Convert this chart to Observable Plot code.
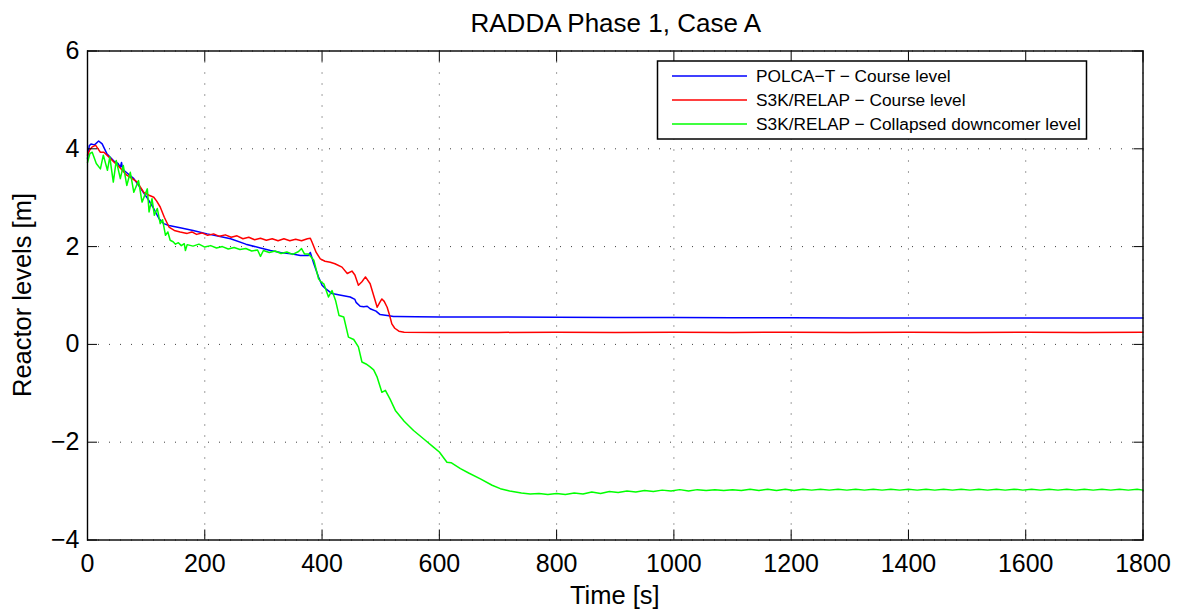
<!DOCTYPE html>
<html>
<head>
<meta charset="utf-8">
<script src="https://cdn.jsdelivr.net/npm/d3@7"></script>
<script src="https://cdn.jsdelivr.net/npm/@observablehq/plot@0.6"></script>
<style>
  html, body { margin: 0; padding: 0; background: #fff; }
  #chart { width: 1181px; height: 612px; }
</style>
</head>
<body>
<div id="chart"></div>
<script>
// ---------- data ----------
const titleText = "RADDA Phase 1, Case A";
const xLabel = "Time [s]";
const yLabel = "Reactor levels [m]";
const xTicks = [0, 200, 400, 600, 800, 1000, 1200, 1400, 1600, 1800];
const yTicks = [-4, -2, 0, 2, 4, 6];
const seriesNames = ["POLCA\u2212T \u2212 Course level", "S3K/RELAP \u2212 Course level", "S3K/RELAP \u2212 Collapsed downcomer level"];
const seriesColors = ["#0000ff", "#ff0000", "#00ff00"];

// POLCA-T course level
const polcaT = [0, 3, 6, 12, 19, 25, 33, 45, 52, 56, 58, 60, 66, 79, 90, 101, 112, 122, 130, 139, 160, 180, 204, 224, 244, 270, 295, 312, 329, 350, 363, 377, 380, 386, 394, 400, 406, 417, 430, 448, 456, 458, 465, 471, 477, 482, 492, 499, 511, 522, 528, 560, 602, 704, 800, 900, 1000, 1100, 1200, 1300, 1400, 1500, 1600, 1700, 1800];
const polcaV = [3.80, 4.06, 4.10, 4.08, 4.16, 4.10, 3.90, 3.75, 3.70, 3.62, 3.72, 3.58, 3.52, 3.39, 3.20, 3.01, 2.80, 2.57, 2.47, 2.43, 2.38, 2.33, 2.26, 2.21, 2.16, 2.05, 1.97, 1.92, 1.88, 1.85, 1.82, 1.82, 1.88, 1.65, 1.38, 1.21, 1.14, 1.04, 1.01, 0.97, 0.92, 0.86, 0.78, 0.77, 0.78, 0.73, 0.68, 0.61, 0.59, 0.57, 0.57, 0.565, 0.56, 0.56, 0.555, 0.55, 0.55, 0.545, 0.545, 0.54, 0.54, 0.54, 0.54, 0.54, 0.54];

// S3K/RELAP course level
const relapT = [0, 4, 8, 14, 18, 22, 28, 35, 45, 55, 67, 75, 85, 90, 96, 105, 113, 118, 124, 131, 139, 148, 158, 170, 178, 186, 195, 205, 215, 225, 235, 245, 255, 265, 275, 285, 295, 305, 315, 325, 335, 345, 355, 365, 375, 380, 383, 390, 397, 405, 414, 422, 434, 443, 451, 456, 462, 468, 474, 482, 488, 494, 498, 502, 506, 511, 515, 519, 524, 531, 540, 600, 700, 800, 900, 1000, 1100, 1200, 1300, 1400, 1500, 1600, 1700, 1800];
const relapV = [3.87, 3.98, 4.04, 4.07, 4.00, 3.93, 3.93, 3.85, 3.73, 3.62, 3.46, 3.40, 3.32, 3.22, 3.11, 3.05, 3.01, 2.93, 2.81, 2.60, 2.40, 2.33, 2.30, 2.27, 2.30, 2.25, 2.28, 2.23, 2.26, 2.21, 2.24, 2.19, 2.22, 2.16, 2.19, 2.14, 2.17, 2.13, 2.16, 2.12, 2.16, 2.12, 2.15, 2.12, 2.16, 2.17, 2.09, 1.88, 1.75, 1.70, 1.68, 1.65, 1.58, 1.45, 1.50, 1.42, 1.21, 1.28, 1.38, 1.24, 1.00, 0.76, 0.85, 0.93, 0.88, 0.76, 0.60, 0.42, 0.33, 0.27, 0.25, 0.245, 0.245, 0.25, 0.245, 0.25, 0.245, 0.25, 0.245, 0.25, 0.245, 0.25, 0.245, 0.25];

// S3K/RELAP collapsed downcomer level
const dcT = [0, 4, 8, 15, 22, 27, 34, 38, 44, 49, 56, 61, 67, 73, 79, 87, 93, 102, 105, 110, 114, 119, 124, 128, 133, 137, 141, 146, 150, 155, 160, 165, 167, 170, 180, 190, 200, 210, 220, 230, 240, 250, 260, 270, 280, 290, 295, 300, 310, 320, 330, 340, 350, 360, 365, 370, 377, 386, 394, 398, 403, 411, 417, 423, 429, 437, 445, 454, 462, 468, 475, 482, 488, 494, 502, 508, 516, 525, 540, 556, 575, 590, 600, 613, 620, 636, 650, 670, 690, 704, 720, 740, 755, 770, 785, 800, 815, 830, 845, 860, 875, 890, 905, 920, 935, 950, 965, 980, 995, 1010, 1025, 1040, 1055, 1070, 1085, 1100, 1115, 1130, 1145, 1160, 1175, 1190, 1205, 1220, 1235, 1250, 1265, 1280, 1295, 1310, 1325, 1340, 1355, 1370, 1385, 1400, 1415, 1430, 1445, 1460, 1475, 1490, 1505, 1520, 1535, 1550, 1565, 1580, 1595, 1610, 1625, 1640, 1655, 1670, 1685, 1700, 1715, 1730, 1745, 1760, 1775, 1790, 1800];
const dcV = [3.72, 3.90, 3.93, 3.70, 3.59, 3.87, 3.56, 3.83, 3.32, 3.76, 3.39, 3.66, 3.25, 3.52, 3.11, 3.35, 2.91, 3.18, 2.71, 2.98, 2.64, 2.78, 2.47, 2.55, 2.23, 2.30, 2.13, 2.10, 2.05, 2.08, 2.02, 2.06, 1.92, 2.04, 2.01, 2.05, 1.99, 2.02, 1.97, 2.00, 1.95, 1.98, 1.94, 1.96, 1.91, 1.93, 1.80, 1.92, 1.88, 1.91, 1.86, 1.89, 1.84, 1.90, 1.96, 1.85, 1.85, 1.72, 1.34, 1.28, 1.24, 0.97, 1.10, 0.90, 0.59, 0.56, 0.15, 0.10, -0.05, -0.36, -0.40, -0.46, -0.52, -0.67, -0.98, -0.94, -1.12, -1.35, -1.57, -1.76, -1.95, -2.10, -2.20, -2.41, -2.42, -2.54, -2.63, -2.75, -2.88, -2.95, -3.00, -3.04, -3.06, -3.05, -3.07, -3.05, -3.07, -3.04, -3.06, -3.02, -3.05, -3.01, -3.03, -3.00, -3.02, -2.99, -3.01, -2.98, -3.00, -2.97, -3.00, -2.97, -2.99, -2.97, -2.99, -2.97, -2.99, -2.96, -2.99, -2.96, -2.99, -2.96, -2.99, -2.96, -2.98, -2.96, -2.98, -2.96, -2.98, -2.96, -2.98, -2.96, -2.98, -2.96, -2.98, -2.96, -2.98, -2.96, -2.98, -2.96, -2.98, -2.96, -2.98, -2.96, -2.98, -2.96, -2.98, -2.96, -2.98, -2.96, -2.98, -2.96, -2.98, -2.96, -2.98, -2.96, -2.98, -2.96, -2.98, -2.96, -2.98, -2.96, -2.98, -2.96, -2.97];

// ---------- build tables ----------
const toRows = (ts, vs, s) => ts.map((t, i) => ({t, v: vs[i], s}));
const rows = [
  ...toRows(polcaT, polcaV, seriesNames[0]),
  ...toRows(relapT, relapV, seriesNames[1]),
  ...toRows(dcT, dcV, seriesNames[2])
];

const font = "'Liberation Sans', Arial, Helvetica, sans-serif";
const W = 1181, H = 612;
const mL = 87, mR = 38.5, mT = 50.5, mB = 72.5;
const numFmt = d => String(d).replace("-", "\u2212");

const chart = Plot.plot({
  width: W,
  height: H,
  marginLeft: mL,
  marginRight: mR,
  marginTop: mT,
  marginBottom: mB,
  style: {fontFamily: font, fontSize: "25px", background: "white", color: "black", overflow: "visible"},
  x: {domain: [0, 1800], ticks: xTicks},
  y: {domain: [-4, 6], ticks: yTicks},
  color: {domain: seriesNames, range: seriesColors},
  marks: [
    Plot.gridX(xTicks, {stroke: "#000", strokeOpacity: 0.75, strokeWidth: 1, strokeDasharray: "1,10"}),
    Plot.gridY(yTicks, {stroke: "#000", strokeOpacity: 0.75, strokeWidth: 1, strokeDasharray: "1,10"}),
    Plot.line(rows, {x: "t", y: "v", z: "s", stroke: "s", strokeWidth: 1.5, curve: "linear"}),
    Plot.frame({stroke: "black", strokeWidth: 1.4}),
    Plot.axisX(xTicks, {anchor: "bottom", tickSize: -10, tickPadding: 24.5, fontSize: 25, label: null, tickFormat: numFmt}),
    Plot.axisX(xTicks, {anchor: "top", tickSize: -10, tickFormat: () => "", label: null}),
    Plot.axisY(yTicks, {anchor: "left", tickSize: -10, tickPadding: 18, fontSize: 25, label: null, tickFormat: numFmt}),
    Plot.axisY(yTicks, {anchor: "right", tickSize: -10, tickFormat: () => "", label: null})
  ]
});

document.getElementById("chart").appendChild(chart);

// ---------- title, axis labels, legend ----------
const svg = d3.select(chart);
const cx = mL + (W - mL - mR) / 2;

svg.append("text").attr("x", cx + 1).attr("y", 32)
  .attr("text-anchor", "middle").attr("font-family", font).attr("font-size", 26)
  .attr("fill", "black").text(titleText);

svg.append("text").attr("x", cx).attr("y", 604)
  .attr("text-anchor", "middle").attr("font-family", font).attr("font-size", 25.5)
  .attr("fill", "black").text(xLabel);

svg.append("text").attr("transform", `translate(31,${mT + (H - mT - mB) / 2}) rotate(-90)`)
  .attr("text-anchor", "middle").attr("font-family", font).attr("font-size", 25.5)
  .attr("fill", "black").text(yLabel);

const lg = svg.append("g");
lg.append("rect").attr("x", 657.5).attr("y", 61).attr("width", 429).attr("height", 78)
  .attr("fill", "white").attr("stroke", "black").attr("stroke-width", 1.5);
seriesNames.forEach((name, i) => {
  const yy = 76 + i * 24;
  lg.append("line").attr("x1", 672).attr("x2", 747).attr("y1", yy).attr("y2", yy)
    .attr("stroke", seriesColors[i]).attr("stroke-width", 1.3);
  lg.append("text").attr("x", 756).attr("y", yy + 6).attr("text-anchor", "start")
    .attr("font-family", font).attr("font-size", 17.3).attr("fill", "black").text(name);
});
</script>
</body>
</html>
